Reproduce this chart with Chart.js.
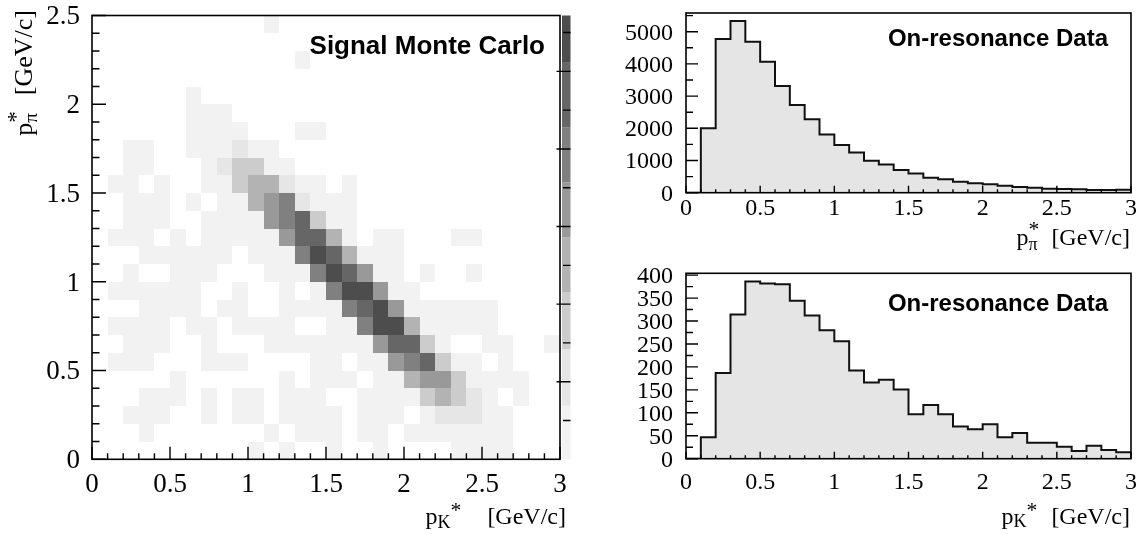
<!DOCTYPE html>
<html>
<head>
<meta charset="utf-8">
<title>p* distributions</title>
<script src="https://cdn.jsdelivr.net/npm/chart.js@4.4.1/dist/chart.umd.min.js"></script>
<style>
  html, body { margin: 0; padding: 0; background: #ffffff; }
  #page { position: relative; width: 1141px; height: 534px; overflow: hidden; }
  #page canvas { position: absolute; }
</style>
</head>
<body>
<div id="page">
  <canvas id="mcChart" width="620" height="534" style="left:0;top:0;width:620px;height:534px"></canvas>
  <canvas id="piChart" width="521" height="260" style="left:620px;top:0;width:521px;height:260px"></canvas>
  <canvas id="kChart" width="521" height="274" style="left:620px;top:260px;width:521px;height:274px"></canvas>
</div>
<script>
// bin edges in GeV/c (also the minor tick positions)
const pKEdges = [0, 0.1, 0.2, 0.3, 0.4, 0.5, 0.6, 0.7, 0.8, 0.9, 1, 1.1, 1.2, 1.3, 1.4, 1.5,
                 1.6, 1.7, 1.8, 1.9, 2, 2.1, 2.2, 2.3, 2.4, 2.5, 2.6, 2.7, 2.8, 2.9, 3];
const pPiEdges = [0, 0.1, 0.2, 0.3, 0.4, 0.5, 0.6, 0.7, 0.8, 0.9, 1, 1.1, 1.2, 1.3, 1.4, 1.5,
                  1.6, 1.7, 1.8, 1.9, 2, 2.1, 2.2, 2.3, 2.4, 2.5];

// labelled ticks
const pLabels = [0, 0.5, 1, 1.5, 2, 2.5, 3];
const pPiLabels = [0, 0.5, 1, 1.5, 2, 2.5];
const piYLabels = [0, 1000, 2000, 3000, 4000, 5000];
const piYMinor = [500, 1500, 2500, 3500, 4500, 5500];
const kYLabels = [0, 50, 100, 150, 200, 250, 300, 350, 400];
const kYMinor = [25, 75, 125, 175, 225, 275, 325, 375];
const zTicks = [5, 10, 15, 20, 25, 30, 35, 40, 45, 50, 55];

// signal MC: grey level of each cell (0 = empty), one string per p_pi* row,
// first row is 2.4-2.5, last row is 0-0.1; one character per p_K* bin
const signalRows = [
  "000000000001000000000000000000",
  "000000000000000000000000000000",
  "000000000000010000000000000000",
  "000000000000000000000000000000",
  "000000100000000000000000000000",
  "000000111000000000000000000000",
  "000000111100011000000000000000",
  "001100111211000000000000000000",
  "001100012331100000000000000000",
  "011010011344211010000000000000",
  "001110101145621110000000000000",
  "001110011115673110000000000000",
  "011101011111577410110001100000",
  "000111111011168741110000000000",
  "001001110001116875110100100000",
  "011111100100101688511000000000",
  "000111101100111167851111110000",
  "011110110111100116884111110000",
  "001110010001111111577310011001",
  "011100011100001101156731101000",
  "000001000000101110114553111100",
  "000111010110111001111343210100",
  "001110010110111101110122211000",
  "000100000001011101101111111000",
  "000000000010100100100001111000"
];

// grey palette, index = level
const levelColors = ['#ffffff', '#f2f2f2', '#e6e6e6', '#cccccc', '#b3b3b3',
                     '#999999', '#808080', '#666666', '#4d4d4d'];
// colour scale boundaries of the levels
const zEdges = [0, 6.9, 14.2, 21.5, 28.6, 35.7, 42.8, 51.2, 57.2];

// on-resonance data, entries per 0.1 GeV/c bin
const piCounts = [0, 2000, 4770, 5330, 4690, 4070, 3310, 2720, 2280, 1810,
                  1480, 1250, 990, 875, 705, 600, 466, 416, 342, 292,
                  261, 217, 177, 155, 124, 115, 106, 84, 84, 93];
const kCounts = [0, 47, 187, 314, 386, 382, 380, 344, 312, 280,
                 256, 192, 166, 172, 151, 97, 117, 97, 70, 64,
                 75, 47, 56, 35, 35, 26, 17, 28, 19, 14];

const serif = '"Liberation Serif", "Times New Roman", serif';
const sans = '"Liberation Sans", Arial, sans-serif';

// axis titles with sub/superscripts
const pKTitle = [
  { t: 'p' },
  { t: 'K', scale: 0.75, dy: 0.15 },
  { t: '*', scale: 0.9, dy: -0.3 },
  { t: '[GeV/c]', gapBefore: true }
];
const pPiTitle = [
  { t: 'p' },
  { t: 'π', scale: 0.75, dy: 0.2, keep: true },
  { t: '*', scale: 0.9, dy: -0.36 },
  { t: '[GeV/c]', gapBefore: true }
];

function hiddenAxis(min, max, box) {
  return {
    type: 'linear', min: min, max: max,
    grid: { display: false }, border: { display: false }, ticks: { display: false },
    afterFit(s) {
      if (s.isHorizontal()) s.height = box; else s.width = box;
      s.paddingLeft = 0; s.paddingRight = 0; s.paddingTop = 0; s.paddingBottom = 0;
    }
  };
}

// ROOT-like frame, inward ticks and tick labels
function makeAxes(spec) {
  return {
    id: 'rootAxes',
    afterDatasetsDraw(chart) {
      const { ctx, chartArea: a, scales: { x, y } } = chart;
      ctx.save();
      ctx.strokeStyle = '#000';
      ctx.lineWidth = 1.6;
      ctx.strokeRect(a.left, a.top, a.right - a.left, a.bottom - a.top);
      ctx.lineWidth = 1.4;
      ctx.beginPath();
      const xMark = (v, len) => { const px = x.getPixelForValue(v); ctx.moveTo(px, a.bottom); ctx.lineTo(px, a.bottom - len); };
      const yMark = (v, len) => { const py = y.getPixelForValue(v); ctx.moveTo(a.left, py); ctx.lineTo(a.left + len, py); };
      spec.x.minor.forEach(v => xMark(v, spec.x.minorLen));
      spec.x.major.forEach(v => xMark(v, spec.x.majorLen));
      spec.y.minor.forEach(v => yMark(v, spec.y.minorLen));
      spec.y.major.forEach(v => yMark(v, spec.y.majorLen));
      ctx.stroke();
      ctx.fillStyle = '#000';
      ctx.textBaseline = 'alphabetic';
      ctx.font = spec.x.font + 'px ' + serif;
      ctx.textAlign = 'center';
      spec.x.major.forEach(v => ctx.fillText(String(v), x.getPixelForValue(v), a.bottom + spec.x.labelDy));
      ctx.font = spec.y.font + 'px ' + serif;
      ctx.textAlign = 'right';
      spec.y.major.forEach(v => ctx.fillText(String(v), a.left - spec.y.labelDx, y.getPixelForValue(v) + 0.33 * spec.y.font));
      ctx.restore();
    }
  };
}

function layoutRich(ctx, parts, size, gap) {
  let x = 0, pending = 0;
  const items = [];
  parts.forEach(p => {
    if (p.gapBefore) x += gap;
    const font = (size * (p.scale || 1)) + 'px ' + serif;
    ctx.font = font;
    const w = ctx.measureText(p.t).width;
    items.push({ t: p.t, font: font, x: x, dy: (p.dy || 0) * size });
    if (p.keep) { pending = Math.max(pending, w); }
    else { x += Math.max(w, pending); pending = 0; }
  });
  return { items: items, width: x };
}

function drawRich(ctx, title, rx, ry, rotate) {
  const lay = layoutRich(ctx, title.parts, title.size, title.gap);
  ctx.save();
  ctx.translate(rx, ry);
  if (rotate) ctx.rotate(-Math.PI / 2);
  ctx.fillStyle = '#000';
  ctx.textAlign = 'left';
  ctx.textBaseline = 'alphabetic';
  lay.items.forEach(it => {
    ctx.font = it.font;
    ctx.fillText(it.t, it.x - lay.width, it.dy);
  });
  ctx.restore();
}

// panel label and axis titles
function makeText(o) {
  return {
    id: 'panelText',
    afterDraw(chart) {
      const { ctx, chartArea: a } = chart;
      ctx.save();
      ctx.fillStyle = '#000';
      ctx.font = 'bold ' + o.label.size + 'px ' + sans;
      ctx.textAlign = 'right';
      ctx.textBaseline = 'alphabetic';
      ctx.fillText(o.label.text, a.right - o.label.dx, a.top + o.label.dy);
      ctx.restore();
      drawRich(ctx, o.xTitle, a.right + o.xTitle.dx, a.bottom + o.xTitle.dy, false);
      if (o.yTitle) drawRich(ctx, o.yTitle, o.yTitle.x, a.top + o.yTitle.dy, true);
    }
  };
}

// 2D cells and the grey colour bar, placed with the x, y and z scales
const heatCells = {
  id: 'heatCells',
  beforeDatasetsDraw(chart) {
    const { ctx, scales: { x, y, z }, chartArea: a } = chart;
    ctx.save();
    chart.data.datasets[0].data.forEach(c => {
      const x0 = Math.round(x.getPixelForValue(c.x)), x1 = Math.round(x.getPixelForValue(c.x2));
      const y0 = Math.round(y.getPixelForValue(c.y2)), y1 = Math.round(y.getPixelForValue(c.y));
      ctx.fillStyle = levelColors[c.level];
      ctx.fillRect(x0, y0, x1 - x0, y1 - y0);
    });
    const bx0 = a.right + 2, bx1 = a.right + 10.5;
    for (let k = 0; k < zEdges.length - 1; k++) {
      const yt = z.getPixelForValue(zEdges[k + 1]), yb = z.getPixelForValue(zEdges[k]);
      ctx.fillStyle = levelColors[k + 1];
      ctx.fillRect(bx0, yt, bx1 - bx0, yb - yt);
    }
    ctx.restore();
  },
  afterDraw(chart) {
    const { ctx, scales: { z }, chartArea: a } = chart;
    const bx1 = a.right + 10.5;
    ctx.save();
    ctx.strokeStyle = '#000';
    ctx.lineWidth = 1.4;
    ctx.beginPath();
    zTicks.forEach(v => {
      const py = z.getPixelForValue(v);
      ctx.moveTo(bx1, py);
      ctx.lineTo(bx1 - (v % 10 === 0 ? 14 : 7.5), py);
    });
    ctx.stroke();
    ctx.restore();
  }
};

// cells from the level strings
const cells = [];
signalRows.forEach((row, r) => {
  const j = signalRows.length - 1 - r;
  for (let i = 0; i < row.length; i++) {
    const level = Number(row[i]);
    if (level > 0) {
      cells.push({ x: pKEdges[i], y: pPiEdges[j], x2: pKEdges[i + 1], y2: pPiEdges[j + 1], level: level });
    }
  }
});

new Chart(document.getElementById('mcChart'), {
  type: 'scatter',
  data: { datasets: [{ label: 'Signal Monte Carlo', data: cells, pointRadius: 0, pointHoverRadius: 0 }] },
  options: {
    responsive: false, animation: false, events: [],
    layout: { padding: { top: 15.5, right: 60, left: 0, bottom: 0 } },
    scales: {
      x: hiddenAxis(0, 3, 74.7),
      y: hiddenAxis(0, 2.5, 92),
      z: Object.assign(hiddenAxis(0, 57.2, 0), { position: 'right' })
    },
    plugins: { legend: { display: false }, tooltip: { enabled: false } }
  },
  plugins: [
    heatCells,
    makeAxes({
      x: { minor: pKEdges, major: pLabels, minorLen: 6, majorLen: 12.5, font: 27, labelDy: 33 },
      y: { minor: pPiEdges, major: pPiLabels, minorLen: 7.5, majorLen: 14, font: 27, labelDx: 12 }
    }),
    makeText({
      label: { text: 'Signal Monte Carlo', size: 26, dx: 15, dy: 38 },
      xTitle: { parts: pKTitle, size: 24, gap: 26, dx: 6, dy: 64.7 },
      yTitle: { parts: pPiTitle, size: 26, gap: 16, x: 32, dy: -5.5 }
    })
  ]
});

function histPoints(edges, counts) {
  // left edge of each bin, closed with the right edge of the last bin
  return edges.map((x, i) => ({ x: x, y: counts[Math.min(i, counts.length - 1)] }));
}

function histChart(id, counts, o) {
  return new Chart(document.getElementById(id), {
    type: 'line',
    data: {
      datasets: [{
        label: 'On-resonance Data',
        data: histPoints(pKEdges, counts), stepped: 'before',
        borderColor: '#111', borderWidth: 2, backgroundColor: '#e5e5e5',
        fill: 'origin', pointRadius: 0, tension: 0
      }]
    },
    options: {
      responsive: false, animation: false, events: [],
      layout: { padding: { top: o.top, right: 10, left: 0, bottom: 0 } },
      scales: {
        x: hiddenAxis(0, 3, o.xBox),
        y: hiddenAxis(0, o.yMax, 66)
      },
      plugins: { legend: { display: false }, tooltip: { enabled: false } }
    },
    plugins: [
      makeAxes({
        x: { minor: pKEdges, major: pLabels, minorLen: 3.5, majorLen: 7, font: 24, labelDy: o.xLabelDy },
        y: { minor: o.yMinor, major: o.yLabels, minorLen: 7, majorLen: 12, font: 24, labelDx: 13 }
      }),
      makeText({
        label: { text: 'On-resonance Data', size: 24, dx: 23, dy: o.labelDy },
        xTitle: { parts: o.title, size: 24, gap: o.gap, dx: -1, dy: o.titleDy }
      })
    ]
  });
}

histChart('piChart', piCounts, {
  yMax: 5580, yLabels: piYLabels, yMinor: piYMinor, top: 13, xBox: 67.3,
  xLabelDy: 22.5, labelDy: 33, title: pPiTitle, gap: 12, titleDy: 52
});
histChart('kChart', kCounts, {
  yMax: 404, yLabels: kYLabels, yMinor: kYMinor, top: 13.3, xBox: 75.3,
  xLabelDy: 30.5, labelDy: 38, title: pKTitle, gap: 14, titleDy: 65
});
</script>
</body>
</html>
